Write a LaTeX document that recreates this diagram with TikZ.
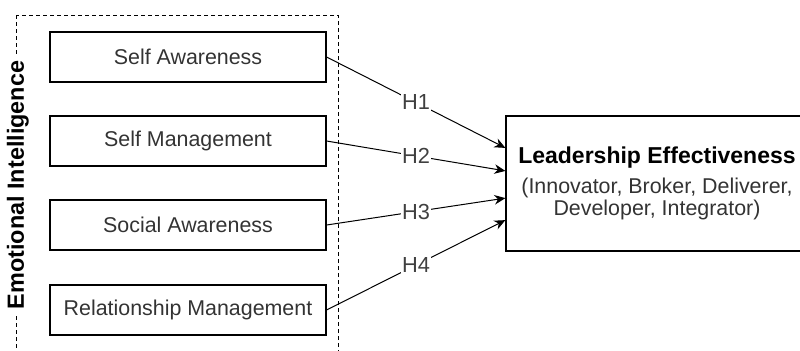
\documentclass[tikz,border=0pt]{standalone}
\usepackage{fontspec}
\setmainfont{Liberation Sans}
\usetikzlibrary{arrows.meta}

\begin{document}
\begin{tikzpicture}
 [x=0.5pt,y=-0.5pt, >={Stealth[length=5.5pt,width=4.8pt]},
  ei node/.style={node distance=42pt, rectangle, draw, line width=0.6pt, minimum width=138pt, minimum height=25pt, text=black!80, font=\fontsize{10.7}{13}\selectfont},
  le node/.style={rectangle, draw, line width=0.6pt, minimum width=151pt, minimum height=67.5pt, align=center, text=black!80, font=\fontsize{10.7}{11.3}\selectfont},
  ei frame/.style={draw, line width=0.5pt, dash pattern=on 2pt off 1.5pt},
  h label/.style={fill=white, inner sep=0.5pt, text=black!75, font=\fontsize{10.9}{13}\selectfont}]

\useasboundingbox (0,0) rectangle (800,350);
\clip (0,0) rectangle (800,350);

\path[ei frame] (16,15) rectangle (338,370);
\node[rotate=90, fill=white, inner sep=2pt, font=\fontsize{11.7}{13}\bfseries] (ei) at (18,185) {Emotional Intelligence};

\node[ei node] (sa) at (188,57) {Self Awareness};
 \node[ei node] (sm) [below of=sa] {Self Management};
 \node[ei node] (soa) [below of=sm] {Social Awareness};
 \node[ei node] (rm) [below of=soa, yshift=-0.5pt] {Relationship Management};

\node[le node] (le) at (657,183.5) {{\fontsize{11.5}{13}\bfseries\color{black} Leadership Effectiveness}\\[3.4pt]
  (Innovator, Broker, Deliverer,\\ Developer, Integrator)};

\path
  (sa.east) edge [->, line width=0.5pt] node [h label] {H1} ([yshift=17.8pt]le.west)
  (sm.east) edge [->, line width=0.5pt] node [h label] {H2} ([yshift=6.3pt]le.west)
  (soa.east) edge [->, line width=0.5pt] node [h label] {H3} ([yshift=-7.3pt]le.west)
  (rm.east) edge [->, line width=0.5pt] node [h label] {H4} ([yshift=-18.3pt]le.west);

\end{tikzpicture}
\end{document}
